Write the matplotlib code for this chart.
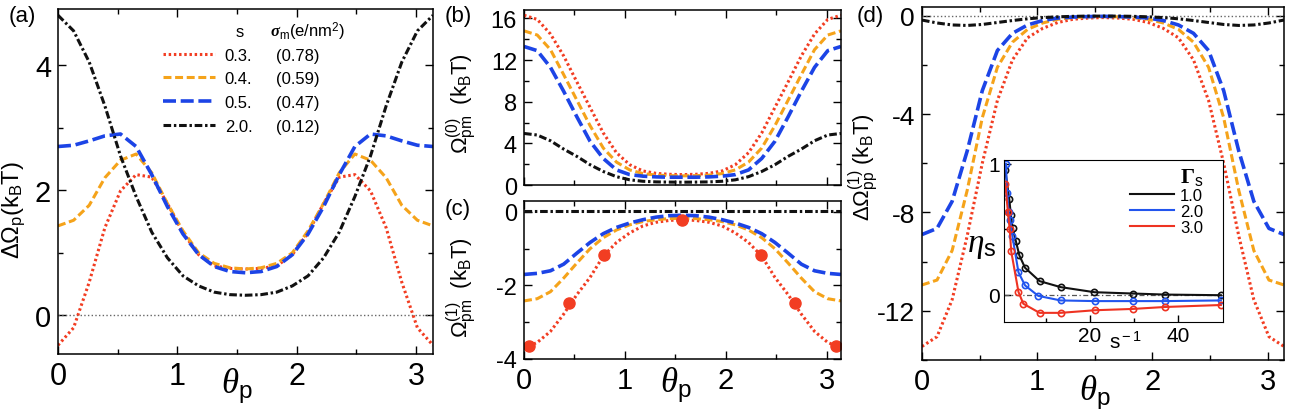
import matplotlib
matplotlib.use('Agg')
import matplotlib.pyplot as plt
from matplotlib.lines import Line2D
import numpy as np

plt.rcParams['font.family'] = ['Liberation Sans', 'DejaVu Sans']
plt.rcParams['axes.unicode_minus'] = False
plt.rcParams['mathtext.fontset'] = 'custom'
plt.rcParams['mathtext.rm'] = 'Liberation Sans'
plt.rcParams['mathtext.it'] = 'Liberation Serif:italic'
plt.rcParams['mathtext.bf'] = 'Liberation Serif:bold:italic'
plt.rcParams['mathtext.sf'] = 'Liberation Serif:bold'

# sample angles (0..pi, 25 points)
theta = np.linspace(0, np.pi, 25)

s_labels = ['0.3.', '0.4.', '0.5.', '2.0.']
sigma_labels = ['(0.78)', '(0.59)', '(0.47)', '(0.12)']

# panel (a): Delta Omega_p
red_a = [-0.48, -0.20, 0.53, 1.40, 1.99, 2.25, 2.21, 1.79, 1.32, 0.97, 0.79, 0.75, 0.74,
         0.75, 0.79, 0.97, 1.32, 1.79, 2.21, 2.25, 1.99, 1.40, 0.53, -0.20, -0.48]
orange_a = [1.43, 1.52, 1.76, 2.20, 2.48, 2.58, 2.28, 1.79, 1.35, 1.00, 0.83, 0.76, 0.74,
            0.76, 0.83, 1.00, 1.35, 1.79, 2.28, 2.58, 2.48, 2.20, 1.76, 1.52, 1.43]
blue_a = [2.70, 2.72, 2.79, 2.87, 2.90, 2.70, 2.25, 1.74, 1.30, 0.97, 0.78, 0.70, 0.68,
          0.70, 0.78, 0.97, 1.30, 1.74, 2.25, 2.70, 2.90, 2.87, 2.79, 2.72, 2.70]
black_a = [4.80, 4.55, 4.05, 3.35, 2.55, 1.90, 1.33, 0.92, 0.63, 0.47, 0.37, 0.33, 0.32,
           0.33, 0.37, 0.47, 0.63, 0.92, 1.33, 1.90, 2.55, 3.35, 4.05, 4.55, 4.80]

# panel (b): Omega_pm^(0)
red_b = [16.3, 15.9, 14.5, 12.4, 9.9, 7.45, 5.0, 3.1, 1.95, 1.35, 1.12, 1.03, 1.0,
         1.03, 1.12, 1.35, 1.95, 3.1, 5.0, 7.45, 9.9, 12.4, 14.5, 15.9, 16.3]
orange_b = [14.8, 14.4, 13.0, 10.6, 8.15, 5.7, 3.55, 2.2, 1.45, 1.1, 0.95, 0.9, 0.88,
            0.9, 0.95, 1.1, 1.45, 2.2, 3.55, 5.7, 8.15, 10.6, 13.0, 14.4, 14.8]
blue_b = [13.3, 12.9, 11.3, 9.0, 6.55, 4.2, 2.55, 1.45, 1.0, 0.85, 0.78, 0.75, 0.75,
          0.75, 0.78, 0.85, 1.0, 1.45, 2.55, 4.2, 6.55, 9.0, 11.3, 12.9, 13.3]
black_b = [4.95, 4.8, 4.25, 3.45, 2.75, 1.95, 1.3, 0.8, 0.5, 0.36, 0.3, 0.28, 0.27,
           0.28, 0.3, 0.36, 0.5, 0.8, 1.3, 1.95, 2.75, 3.45, 4.25, 4.8, 4.95]

# panel (c): Omega_pm^(1)
red_c = [-3.70, -3.55, -3.25, -2.78, -2.25, -1.78, -1.20, -0.83, -0.57, -0.38, -0.28, -0.23, -0.21,
         -0.23, -0.28, -0.38, -0.57, -0.83, -1.20, -1.78, -2.25, -2.78, -3.25, -3.55, -3.70]
orange_c = [-2.42, -2.36, -2.17, -1.80, -1.39, -1.00, -0.70, -0.49, -0.35, -0.26, -0.21, -0.18, -0.17,
            -0.18, -0.21, -0.26, -0.35, -0.49, -0.70, -1.00, -1.39, -1.80, -2.17, -2.36, -2.42]
blue_c = [-1.70, -1.67, -1.60, -1.42, -1.12, -0.83, -0.59, -0.42, -0.30, -0.21, -0.14, -0.10, -0.09,
          -0.10, -0.14, -0.21, -0.30, -0.42, -0.59, -0.83, -1.12, -1.42, -1.60, -1.67, -1.70]
black_c = [0.03, 0.03, 0.03, 0.03, 0.03, 0.03, 0.03, 0.03, 0.03, 0.03, 0.03, 0.03, 0.03,
           0.03, 0.03, 0.03, 0.03, 0.03, 0.03, 0.03, 0.03, 0.03, 0.03, 0.03, 0.03]
theta_pts = [0.05, 0.45, 0.79, 1.57, 2.35, 2.69, 3.09]
red_pts = [-3.66, -2.49, -1.18, -0.21, -1.18, -2.49, -3.66]

# panel (d): Delta Omega_pp^(1)
red_d = [-13.45, -13.05, -11.55, -8.95, -6.0, -3.45, -1.8, -0.9, -0.52, -0.28, -0.15, -0.1, -0.08,
         -0.1, -0.15, -0.28, -0.52, -0.9, -1.8, -3.45, -6.0, -8.95, -11.55, -13.05, -13.45]
orange_d = [-10.95, -10.75, -9.55, -7.1, -4.15, -2.1, -1.08, -0.56, -0.3, -0.15, -0.08, -0.05, -0.04,
            -0.05, -0.08, -0.15, -0.3, -0.56, -1.08, -2.1, -4.15, -7.1, -9.55, -10.75, -10.95]
blue_d = [-8.9, -8.65, -7.55, -5.5, -3.05, -1.42, -0.72, -0.38, -0.2, -0.1, -0.06, -0.04, -0.03,
          -0.04, -0.06, -0.1, -0.2, -0.38, -0.72, -1.42, -3.05, -5.5, -7.55, -8.65, -8.9]
black_d = [-0.18, -0.3, -0.38, -0.4, -0.36, -0.28, -0.2, -0.13, -0.08, -0.05, -0.03, -0.02, -0.02,
           -0.02, -0.03, -0.05, -0.08, -0.13, -0.2, -0.28, -0.36, -0.4, -0.38, -0.3, -0.18]

# inset: eta_s vs s^-1
gamma_labels = ['1.0', '2.0', '3.0']
s_g1 = [0.7, 1.6, 1.97, 2.35, 3.1, 3.9, 5.2, 8.5, 13.3, 21.0, 29.7, 37.0, 49.8]
eta_g1 = [0.95, 0.73, 0.61, 0.51, 0.41, 0.30, 0.205, 0.103, 0.057, 0.018, 0.008, 0.0, -0.005]
s_g2 = [0.85, 1.1, 1.45, 1.8, 2.3, 3.7, 5.2, 8.2, 13.3, 21.1, 29.7, 37.1, 49.8]
eta_g2 = [1.0, 0.78, 0.63, 0.57, 0.45, 0.17, 0.07, -0.01, -0.045, -0.05, -0.05, -0.05, -0.045]
s_g3 = [0.7, 1.3, 1.7, 2.05, 3.7, 4.8, 8.5, 13.3, 21.1, 29.7, 37.1, 49.8]
eta_g3 = [0.85, 0.63, 0.50, 0.33, 0.02, -0.07, -0.14, -0.14, -0.12, -0.11, -0.095, -0.08]

RED, ORANGE, BLUE, BLACK = '#f23d22', '#f5a31a', '#1c44e6', '#111111'
styles = [
    dict(color=RED, ls=(0, (0.8, 0.9)), lw=2.2),
    dict(color=ORANGE, ls=(0, (2.6, 1.2)), lw=2.2),
    dict(color=BLUE, ls=(0, (3.6, 1.3)), lw=2.6),
    dict(color=BLACK, ls=(0, (2.5, 0.9, 0.8, 0.9)), lw=2.2),
]


def style_axes(ax, xsize=20, ysize=18):
    ax.tick_params(which='both', direction='in', top=True, right=True, width=1)
    ax.tick_params(which='major', length=6)
    ax.tick_params(which='minor', length=3.5)
    ax.tick_params(axis='x', labelsize=xsize, pad=5)
    ax.tick_params(axis='y', labelsize=ysize, pad=5)
    for sp in ax.spines.values():
        sp.set_linewidth(1.1)
    ax.set_xlim(0, np.pi)
    ax.set_xticks([0, 1, 2, 3])
    ax.set_xticks([0.5, 1.5, 2.5], minor=True)


def theta_label(ax):
    ax.text(1.5, -0.035, r'$\theta_{\rm p}$', transform=ax.get_xaxis_transform(),
            ha='center', va='top', fontsize=25)


fig = plt.figure(figsize=(13, 4.1), dpi=100)

# ---- (a)
ax_a = fig.add_axes([0.0446, 0.1341, 0.2885, 0.8415])
ax_a.axhline(0, color='#666666', ls=':', lw=1)
lines = []
for y, st in zip([red_a, orange_a, blue_a, black_a], styles):
    lines += ax_a.plot(theta, y, **st)
style_axes(ax_a, 22, 21)
ax_a.set_ylim(-0.62, 4.9)
ax_a.set_yticks([0, 2, 4])
ax_a.set_yticks([1, 3], minor=True)
ax_a.set_ylabel(r'$\Delta\Omega_{\rm p}(\mathrm{k_BT})$', fontsize=17)
ax_a.yaxis.set_label_coords(-0.082, 0.42)
theta_label(ax_a)
blank = [Line2D([], [], alpha=0) for _ in sigma_labels]
ax_a.legend(lines + blank, s_labels + sigma_labels, ncol=2, loc='upper left',
            bbox_to_anchor=(0.28, 0.888), frameon=False, fontsize=12,
            handlelength=3.1, handletextpad=0.6, labelspacing=0.52, columnspacing=-2.3,
            borderpad=0, borderaxespad=0)
ax_a.text(0.485, 0.936, 's', transform=ax_a.transAxes, fontsize=12, va='center', ha='center')
ax_a.text(0.565, 0.936, r'$\mathbf{\sigma}_{\rm m}$(e/nm$^2$)', transform=ax_a.transAxes,
          fontsize=12, va='center')

# ---- (b)
ax_b = fig.add_axes([0.4031, 0.5463, 0.2438, 0.4268])
for y, st in zip([red_b, orange_b, blue_b, black_b], styles):
    ax_b.plot(theta, y, **st)
style_axes(ax_b, 20, 17)
ax_b.set_ylim(0, 16.8)
ax_b.set_yticks([0, 4, 8, 12, 16])
ax_b.set_yticks([2, 6, 10, 14], minor=True)
ax_b.tick_params(axis='x', labelbottom=False)
ax_b.set_ylabel(r'$\Omega^{(0)}_{\rm pm}\ \ (\mathrm{k_BT})$', fontsize=16)
ax_b.yaxis.set_label_coords(-0.145, 0.47)

# ---- (c)
ax_c = fig.add_axes([0.4031, 0.1220, 0.2438, 0.3854])
for y, st in zip([red_c, orange_c, blue_c, black_c], styles):
    ax_c.plot(theta, y, **st)
ax_c.plot(theta_pts, red_pts, 'o', color=RED, ms=8, ls='none')
style_axes(ax_c, 21, 17)
ax_c.set_ylim(-4, 0.3)
ax_c.set_yticks([-4, -2, 0])
ax_c.set_yticks([-3, -1], minor=True)
ax_c.set_ylabel(r'$\Omega^{(1)}_{\rm pm}\ \ (\mathrm{k_BT})$', fontsize=16)
ax_c.yaxis.set_label_coords(-0.145, 0.46)
theta_label(ax_c)

# ---- (d)
ax_d = fig.add_axes([0.7092, 0.1195, 0.2785, 0.861])
ax_d.axhline(0, color='#666666', ls=':', lw=1)
for y, st in zip([red_d, orange_d, blue_d, black_d], styles):
    ax_d.plot(theta, y, **st)
style_axes(ax_d, 21, 19)
ax_d.set_ylim(-14, 0.35)
ax_d.set_yticks([-12, -8, -4, 0])
ax_d.set_yticks([-14, -10, -6, -2], minor=True)
ax_d.set_ylabel(r'$\Delta\Omega^{(1)}_{\rm pp}\ (\mathrm{k_BT})$', fontsize=16)
ax_d.yaxis.set_label_coords(-0.116, 0.55)
theta_label(ax_d)

# ---- inset
ax_in = fig.add_axes([0.7723, 0.2122, 0.1685, 0.3951])
ax_in.axhline(0, color='#555555', ls=(0, (4, 2, 1, 2)), lw=0.9)
for s, e, c, lab in zip([s_g1, s_g2, s_g3], [eta_g1, eta_g2, eta_g3],
                        [BLACK, '#2255ee', '#ee3322'], gamma_labels):
    ax_in.plot(s, e, color=c, lw=1.5, label=lab)
    ax_in.plot(s, e, 'o', mfc='none', mec=c, ms=4.5, mew=1.2)
ax_in.set_xlim(0.4, 50.3)
ax_in.set_ylim(-0.21, 1.03)
ax_in.set_xticks([20, 40])
ax_in.set_xticks([10, 30], minor=True)
ax_in.set_yticks([0, 1])
ax_in.set_yticks([0.5], minor=True)
ax_in.tick_params(which='both', direction='in', labelsize=15, pad=3, width=1)
ax_in.tick_params(which='major', length=5)
ax_in.tick_params(which='minor', length=3)
ax_in.text(0.553, -0.12, 's$^{\\rm -1}$', transform=ax_in.transAxes, fontsize=15,
           ha='center', va='center')
ax_in.text(-0.10, 0.48, r'$\eta_{\rm s}$', transform=ax_in.transAxes, fontsize=24,
           ha='center', va='center')
ax_in.legend(title=r'$\mathsf{\Gamma}_{\rm s}$', title_fontsize=16, alignment='right',
             loc='upper right', bbox_to_anchor=(0.91, 0.96), frameon=False, fontsize=12,
             handlelength=2.6, handletextpad=0.4, labelspacing=0.05, borderpad=0,
             borderaxespad=0)

# panel letters
fig.text(0.007, 0.985, '(a)', fontsize=16, va='top')
fig.text(0.342, 0.985, '(b)', fontsize=16, va='top')
fig.text(0.342, 0.515, '(c)', fontsize=16, va='top')
fig.text(0.659, 0.985, '(d)', fontsize=16, va='top')

fig.savefig('out.png', dpi=100)
